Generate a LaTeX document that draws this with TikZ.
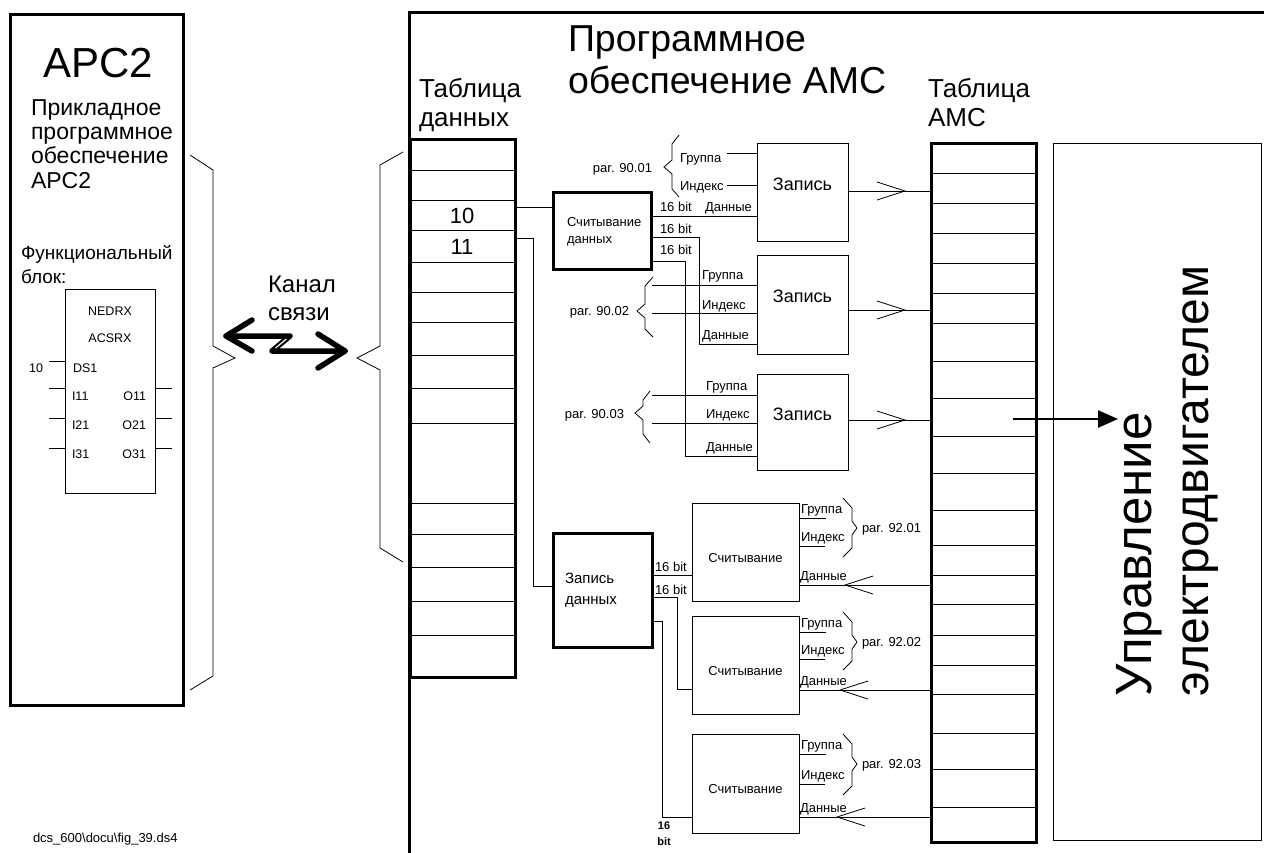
\documentclass[tikz,border=0pt]{standalone}
\usepackage{fontspec}
\setmainfont{Liberation Sans}
\usetikzlibrary{arrows.meta,calc}
\newcommand\fsz[1]{\fontsize{#1}{#1}\selectfont}
\begin{document}
\begin{tikzpicture}[x=1pt,y=-1pt,
  every node/.style={inner sep=0pt, outer sep=0pt},
  heavy/.style={draw, line width=3pt},
  light/.style={draw, line width=0.8pt},
  wire/.style={line width=0.8pt},
  t/.style={anchor=base west, font=\fsz{#1}},
  tc/.style={anchor=base, font=\fsz{#1}},
  te/.style={anchor=base east, font=\fsz{#1}},
  chev/.pic={\draw[line width=0.8pt] (-28,-9) -- (0,0) -- (-28,9);},
]
\useasboundingbox (0,0) rectangle (1264,852);

% ---------- APC2 panel ----------
\node[heavy, anchor=north west, minimum width=173, minimum height=691] (apc) at (10,14) {};
\node[tc=42] (apcT) at (98,77) {APC2};
\node[t=23] (p1) at (31,115) {Прикладное};
\node[t=23] (p2) at (31,139) {программное};
\node[t=23] (p3) at (31,163) {обеспечение};
\node[t=23] (p4) at (31,188) {APC2};
\node[t=19] (f1) at (21,259) {Функциональный};
\node[t=19] (f2) at (21,283) {блок:};

% function block
\node[light, anchor=north west, minimum width=90, minimum height=204] (fb) at (65,289) {};
\node[tc=12.5] (ned) at (110,315) {NEDRX};
\node[tc=12.5] (acs) at (110,342) {ACSRX};
\node[t=12.5] (ds1) at (73,372) {DS1};
\node[te=12.5] (v10) at (43,372) {10};
\node[t=12.5] (i11) at (72,400) {I11};
\node[t=12.5] (i21) at (72,429) {I21};
\node[t=12.5] (i31) at (72,458) {I31};
\node[te=12.5] (o11) at (146,400) {O11};
\node[te=12.5] (o21) at (146,429) {O21};
\node[te=12.5] (o31) at (146,458) {O31};
\coordinate (inD) at (49,361);
\draw[wire] (fb.west |- inD) -- (inD);
\foreach \n/\y in {a/388,b/418,c/448}{
  \coordinate (in\n) at (49,\y);
  \coordinate (out\n) at (172,\y);
  \draw[wire] (fb.west |- in\n) -- (in\n);
  \draw[wire] (fb.east |- out\n) -- (out\n);
}

% braces around the link
\draw[wire] (190,155) -- (213,170) -- (213,346) -- (235,358) -- (213,368) -- (213,676) -- (190,690);
\draw[wire] (403,152) -- (380,165) -- (380,346) -- (357,358) -- (380,370) -- (380,548) -- (403,562);

% communication link
\node[t=24] (k1) at (268,292) {Канал};
\node[t=24] (k2) at (268,320) {связи};
\coordinate (la) at (226,336);
\coordinate (lb) at (290,336);
\coordinate (ra) at (272,351);
\coordinate (rb) at (345,351);
\draw[line width=5.5pt, line cap=round, line join=round] (lb) -- (la) (ra) -- (rb) (lb) -- (ra);
\draw[line width=5.5pt, line cap=round, line join=round] ($(la)+(26,-16)$) -- (la) -- ($(la)+(26,15)$);
\draw[line width=5.5pt, line cap=round, line join=round] ($(rb)+(-27,-17)$) -- (rb) -- ($(rb)+(-27,17)$);
\draw[white, line width=1.2pt] ($(lb)!0.2!(ra)$) -- ($(lb)!0.8!(ra)$);

% ---------- AMC software frame ----------
\draw[line width=3pt] (409,860) -- (409,12) -- (1270,12);
\node[t=37.5] (ttl1) at (568,51) {Программное};
\node[t=37.5] (ttl2) at (568,93) {обеспечение АМС};
\node[t=26] (tdt1) at (419,97) {Таблица};
\node[t=26] (tdt2) at (419,126) {данных};
\node[t=26] (tam1) at (928,97) {Таблица};
\node[t=26] (tam2) at (928,126) {АМС};

% data table
\node[heavy, anchor=north west, minimum width=105, minimum height=538] (dt) at (410,139) {};
\foreach \y in {170,200,230,262,292,322,355,388,423,503,534,567,601,635}
  \draw[wire] (dt.west |- 0,\y) -- (dt.east |- 0,\y);
\node[tc=22] (r10) at (462,223) {10};
\node[tc=22] (r11) at (462,254) {11};

% AMC table
\node[heavy, anchor=north west, minimum width=105, minimum height=699] (amc) at (931,143) {};
\foreach \y in {173,203,233,263,293,323,361,398,436,473,510,545,575,604,635,665,694,733,769,807}
  \draw[wire] (amc.west |- 0,\y) -- (amc.east |- 0,\y);

% motor control
\node[draw, line width=1pt, anchor=north west, minimum width=208, minimum height=697] (ctl) at (1053,143) {};
\node[t=51, rotate=90] (ctl1) at (1151,696) {Управление};
\node[t=48, rotate=90] (ctl2) at (1208,696) {электродвигателем};
\coordinate (ma) at (1013,419);
\coordinate (mb) at (1118,419);
\draw[line width=2.5pt, -{Triangle[length=20pt, width=17pt]}] (ma) -- (mb);

% ---------- read block (data set -> parameters) ----------
\node[heavy, anchor=north west, minimum width=98, minimum height=77] (rd) at (553,192) {};
\node[t=13] at (567,226) {Считывание};
\node[t=13] at (567,243) {данных};

\node[light, anchor=north west, minimum width=91, minimum height=98] (z1) at (757,143) {};
\node[light, anchor=north west, minimum width=91, minimum height=99] (z2) at (757,255) {};
\node[light, anchor=north west, minimum width=91, minimum height=96] (z3) at (757,374) {};
\foreach \b in {z1,z2,z3}
  \node[font=\fsz{18}] at ($(\b.center)+(0,-8)$) {Запись};

\draw[wire] (dt.east |- r10) ++(0,-8) coordinate (q10) (q10) -- (rd.west |- q10);
\draw[wire] (rd.east |- 0,216) -- (z1.west |- 0,216);
\draw[wire] (rd.east |- 0,237) -| (699,344) -- (z2.west |- 0,344);
\draw[wire] (rd.east |- 0,261) -| (685,456) -- (z3.west |- 0,456);
\node[t=13] at (660,211) {16 bit};
\node[t=13] at (660,233) {16 bit};
\node[t=13] at (660,254) {16 bit};

% parameter group 90.01
\node[t=13] at (680,162) {Группа};
\node[t=13] at (680,190) {Индекс};
\node[t=13] at (705,211) {Данные};
\coordinate (g1) at (727,153);
\coordinate (x1) at (727,185);
\draw[wire] (g1) -- (z1.west |- g1);
\draw[wire] (x1) -- (z1.west |- x1);
\draw[wire] (679,135) -- (672,144) -- (672,160) -- (664,167) -- (672,174) -- (672,189) -- (679,197);
\node[te=13] at (652,172) {par. 90.01};

% parameter group 90.02
\node[t=13] at (702,279) {Группа};
\node[t=13] at (702,309) {Индекс};
\node[t=13] at (702,339) {Данные};
\coordinate (g2) at (652,285);
\coordinate (x2) at (652,313);
\draw[wire] (g2) -- (z2.west |- g2);
\draw[wire] (x2) -- (z2.west |- x2);
\draw[wire] (653,277) -- (645,286) -- (645,304) -- (637,311) -- (645,318) -- (645,329) -- (653,337);
\node[te=13] at (629,315) {par. 90.02};

% parameter group 90.03
\node[t=13] at (706,390) {Группа};
\node[t=13] at (706,418) {Индекс};
\node[t=13] at (706,451) {Данные};
\coordinate (g3) at (652,395);
\coordinate (x3) at (652,423);
\draw[wire] (g3) -- (z3.west |- g3);
\draw[wire] (x3) -- (z3.west |- x3);
\draw[wire] (650,391) -- (643,400) -- (643,406) -- (635,413) -- (643,420) -- (643,434) -- (650,443);
\node[te=13] at (624,418) {par. 90.03};

% writes into the AMC table
\foreach \b/\y in {z1/191,z2/310,z3/420}{
  \draw[wire] (\b.east |- 0,\y) -- (amc.west |- 0,\y);
  \pic at (905,\y) {chev};
}

% ---------- write block (parameters -> data set) ----------
\node[heavy, anchor=north west, minimum width=99, minimum height=114] (wd) at (553,533) {};
\node[t=15] at (565,583) {Запись};
\node[t=15] at (565,604) {данных};
\draw[wire] (dt.east |- r11) ++(0,-8) coordinate (q11) (q11) -| (533,586) -- (wd.west |- 0,586);

\node[light, anchor=north west, minimum width=107, minimum height=98] (s1) at (692,503) {};
\node[light, anchor=north west, minimum width=107, minimum height=98] (s2) at (692,616) {};
\node[light, anchor=north west, minimum width=107, minimum height=99] (s3) at (692,734) {};
\foreach \b in {s1,s2,s3}
  \node[font=\fsz{13}] at ($(\b.center)+(0,6)$) {Считывание};

\draw[wire] (wd.east |- 0,575) -- (s1.west |- 0,575);
\draw[wire] (wd.east |- 0,597) -| (677,689) -- (s2.west |- 0,689);
\draw[wire] (wd.east |- 0,621) -| (662,817) -- (s3.west |- 0,817);
\node[t=13] at (655,571) {16 bit};
\node[t=13] at (655,594) {16 bit};
\node[tc=11, font=\fsz{11}\bfseries] at (664,829) {16};
\node[tc=11, font=\fsz{11}\bfseries] at (664,845) {bit};

% parameter groups 92.01 .. 92.03
\foreach \b/\gy/\iy/\dy/\tip/\nm in {s1/513/541/580/845/92.01, s2/627/654/685/840/92.02, s3/749/779/812/837/92.03}{
  \node[t=13] at (801,\gy) {Группа};
  \node[t=13] at (801,\iy) {Индекс};
  \node[t=13] at (800,\dy) {Данные};
  \draw[wire] (\b.east |- 0,\gy+5) -- ++(27,0);
  \draw[wire] (\b.east |- 0,\iy+5) -- ++(26,0);
  \draw[wire] (amc.west |- 0,\dy+5) -- (\b.east |- 0,\dy+5);
  \pic[rotate=180] at (\tip,\dy+5) {chev};
  \draw[wire] (843,\gy-15) -- (852,\gy-5) -- (852,\gy+8) -- (857,\gy+15) -- (852,\gy+22) -- (852,\iy+7) -- (843,\iy+16);
  \node[t=13] at (862,\gy+19) {par. \nm};
}

% file reference
\node[t=13] (ref) at (33,842) {dcs\_600\textbackslash docu\textbackslash fig\_39.ds4};
\end{tikzpicture}
\end{document}
